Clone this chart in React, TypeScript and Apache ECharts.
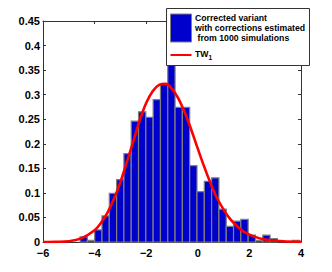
import React, { useEffect, useRef } from 'react';
import * as echarts from 'echarts';

// Histogram: 30 bins, density-normalised
const binStart = -4.564;
const binWidth = 0.2833;
const binDensity = [
  0.0106, 0.0035, 0.0247, 0.053, 0.0989, 0.127, 0.18, 0.246, 0.265, 0.254,
  0.29, 0.3216, 0.364, 0.274, 0.274, 0.1555, 0.1025, 0.1237, 0.1307, 0.067,
  0.0318, 0.0424, 0.046, 0.014, 0.0035, 0.014, 0.007, 0, 0, 0.0035,
];

// TW1 density curve
const curveX = [
  -6, -5.5, -5, -4.5, -4, -3.75, -3.5, -3.25, -3, -2.75, -2.5, -2.25, -2, -1.75,
  -1.5, -1.25, -1, -0.75, -0.5, -0.25, 0, 0.25, 0.5, 0.75, 1, 1.25, 1.5, 1.75, 2,
  2.5, 3, 3.5, 4,
];
const curveY = [
  0, 0.0003, 0.0015, 0.008, 0.024, 0.039, 0.06, 0.088, 0.122, 0.163, 0.205, 0.248,
  0.283, 0.307, 0.32, 0.322, 0.312, 0.292, 0.263, 0.228, 0.19, 0.153, 0.119, 0.089,
  0.066, 0.047, 0.033, 0.022, 0.015, 0.006, 0.0025, 0.001, 0.0003,
];

const legendHistLines = ['Corrected variant', 'with corrections estimated', 'from 1000 simulations'];
const legendCurveName = 'TW';
const legendCurveSub = '1';

const FONT = '"Liberation Sans", Arial, Helvetica, sans-serif';
const BLUE = '#0000cc';
const EDGE = '#7f7f7f';
const AXIS = '#333333';

export default function App() {
  const ref = useRef<HTMLDivElement>(null);
  useEffect(() => {
    if (!ref.current) return;
    const chart = echarts.init(ref.current, undefined, { renderer: 'svg' });
    const barData = binDensity.map((d, i) => [
      binStart + i * binWidth,
      binStart + (i + 1) * binWidth,
      d,
    ]);
    const lineData = curveX.map((x, i) => [x, curveY[i]]);
    const fmtX = (v: number) => (v < 0 ? '\u2212' + Math.abs(v) : String(v));
    const axisCommon = {
      axisLine: { show: true, onZero: false, lineStyle: { color: AXIS, width: 1 } },
      axisTick: { show: true, inside: true, length: 3, lineStyle: { color: AXIS } },
      splitLine: { show: false },
    };
    chart.setOption({
      animation: false,
      backgroundColor: '#ffffff',
      grid: { left: 43, top: 21, width: 258, height: 221, outerBoundsMode: 'none' },
      xAxis: [
        {
          type: 'value', min: -6, max: 4, interval: 2, position: 'bottom',
          ...axisCommon,
          axisLabel: { formatter: fmtX, color: '#000', fontWeight: 'bold', fontSize: 11, fontFamily: FONT, margin: 5 },
        },
        {
          type: 'value', min: -6, max: 4, interval: 2, position: 'top',
          ...axisCommon,
          axisLabel: { show: false },
        },
      ],
      yAxis: [
        {
          type: 'value', min: 0, max: 0.45, interval: 0.05, position: 'left',
          ...axisCommon,
          axisLabel: { color: '#000', fontWeight: 'bold', fontSize: 11, fontFamily: FONT, margin: 3 },
        },
        {
          type: 'value', min: 0, max: 0.45, interval: 0.05, position: 'right',
          ...axisCommon,
          axisLabel: { show: false },
        },
      ],
      series: [
        {
          type: 'custom',
          xAxisIndex: 0,
          yAxisIndex: 0,
          encode: { x: [0, 1], y: 2 },
          data: barData,
          z: 2,
          renderItem: (params: any, api: any) => {
            const x0 = api.value(0);
            const x1 = api.value(1);
            const h = api.value(2);
            if (!h) return null;
            const p0 = api.coord([x0, h]);
            const p1 = api.coord([x1, 0]);
            return {
              type: 'rect',
              shape: { x: p0[0], y: p0[1], width: p1[0] - p0[0], height: p1[1] - p0[1] },
              style: { fill: BLUE, stroke: EDGE, lineWidth: 1.2 },
            };
          },
        },
        {
          type: 'line',
          xAxisIndex: 0,
          yAxisIndex: 0,
          data: lineData,
          smooth: 0.35,
          showSymbol: false,
          z: 3,
          lineStyle: { color: '#ff0000', width: 2.6 },
        },
      ],
      graphic: [
        {
          type: 'group',
          z: 100,
          children: [
            {
              type: 'rect',
              shape: { x: 166.5, y: 8.5, width: 143, height: 57 },
              style: { fill: '#ffffff', stroke: AXIS, lineWidth: 1 },
              z: 100,
            },
            {
              type: 'rect',
              shape: { x: 170.5, y: 14, width: 21, height: 28 },
              style: { fill: BLUE, stroke: EDGE, lineWidth: 1 },
              z: 101,
            },
            ...legendHistLines.map((t, i) => ({
              type: 'text',
              x: i === 2 ? 197.5 : 195,
              y: 18 + i * 10,
              z: 101,
              style: {
                text: t,
                fill: '#000',
                font: `bold 8.7px ${FONT}`,
                verticalAlign: 'middle',
                align: 'left',
              },
            })),
            {
              type: 'line',
              shape: { x1: 170.5, y1: 55, x2: 191.5, y2: 55 },
              style: { stroke: '#ff0000', lineWidth: 2 },
              z: 101,
            },
            {
              type: 'text',
              x: 195,
              y: 54,
              z: 101,
              style: {
                text: `{a|${legendCurveName}}{b|${legendCurveSub}}`,
                verticalAlign: 'middle',
                align: 'left',
                rich: {
                  a: { fontSize: 8.7, fontWeight: 'bold', fontFamily: FONT, fill: '#000' },
                  b: { fontSize: 6.5, fontWeight: 'bold', fontFamily: FONT, fill: '#000', padding: [6, 0, 0, 0] },
                },
              },
            },
          ],
        },
      ],
    });
    return () => chart.dispose();
  }, []);
  return (
    <div
      ref={ref}
      style={{ position: 'fixed', left: 0, top: 0, width: 332, height: 272, background: '#fff' }}
    />
  );
}
